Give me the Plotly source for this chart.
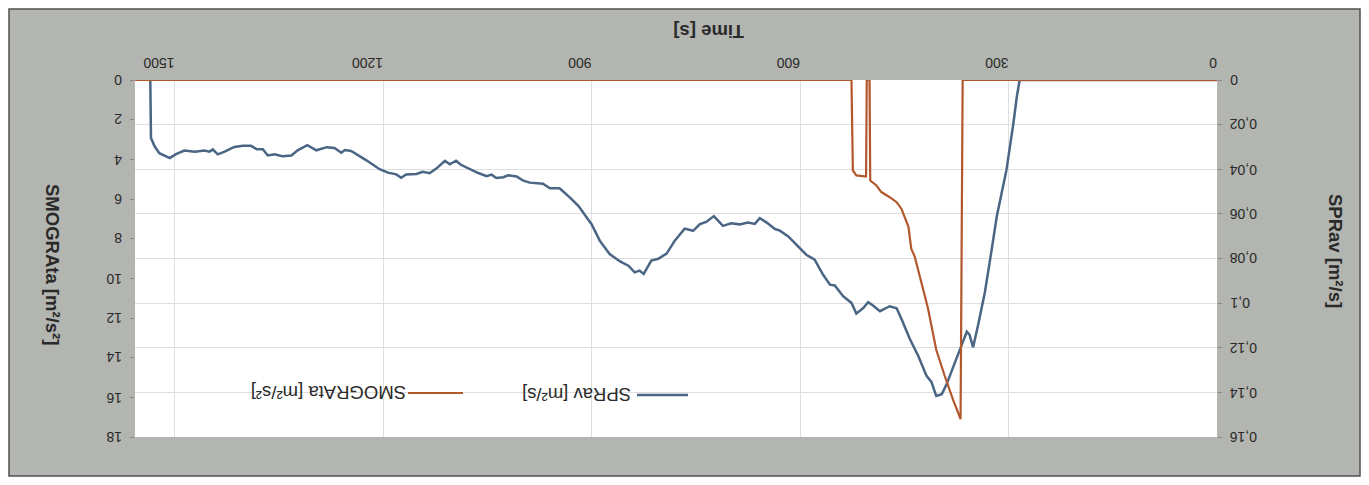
import plotly.graph_objects as go

# ---- data ----
time_spr = [0, 284, 288, 293, 303, 317, 324, 334, 344, 351, 356, 360, 365, 375, 389, 396, 404, 411, 418, 430,
            442, 454, 461, 471, 478, 485, 495, 502, 509, 519, 526, 538, 550, 557, 567, 579, 591, 605, 617, 629,
            636, 648, 658, 665, 675, 687, 699, 711, 724, 735, 744, 754, 766, 780, 792, 804, 814, 825, 831, 838,
            847, 859, 874, 888, 900, 907, 919, 931, 946, 960, 970, 989, 999, 1008, 1020, 1027, 1037, 1044, 1051,
            1063, 1078, 1088, 1095, 1104, 1111, 1123, 1133, 1143, 1152, 1167, 1174, 1181, 1193, 1205, 1224, 1239,
            1246, 1255, 1260, 1270, 1281, 1296, 1309, 1323, 1332, 1345, 1356, 1366, 1373, 1382, 1390, 1402, 1414,
            1428, 1438, 1445, 1450, 1457, 1471, 1486, 1498, 1507, 1522, 1529, 1534, 1535]
spr_av = [0, 0, 0.0074, 0.0194, 0.0404, 0.0613, 0.0756, 0.0951, 0.1101, 0.1198, 0.1142, 0.1128, 0.1168, 0.1251,
          0.1363, 0.1408, 0.1416, 0.1353, 0.1326, 0.1236, 0.1161, 0.1071, 0.1023, 0.1014, 0.1026, 0.1036, 0.1011,
          0.0996, 0.1022, 0.1047, 0.0999, 0.0969, 0.0921, 0.0917, 0.0872, 0.0805, 0.0783, 0.0738, 0.0701, 0.0675,
          0.0668, 0.0639, 0.0619, 0.0645, 0.0639, 0.0647, 0.0642, 0.0654, 0.0610, 0.0636, 0.0646, 0.0676, 0.0666,
          0.0719, 0.0778, 0.0801, 0.0809, 0.0869, 0.0854, 0.0862, 0.0832, 0.0813, 0.0780, 0.0721, 0.0646, 0.0616,
          0.0564, 0.0527, 0.0485, 0.0485, 0.0465, 0.0460, 0.0450, 0.0432, 0.0427, 0.0436, 0.0439, 0.0424, 0.0431,
          0.0417, 0.0395, 0.0380, 0.0362, 0.0378, 0.0362, 0.0396, 0.0418, 0.0411, 0.0421, 0.0423, 0.0438, 0.0423,
          0.0415, 0.0400, 0.0360, 0.0330, 0.0318, 0.0314, 0.0326, 0.0305, 0.0301, 0.0315, 0.0292, 0.0315, 0.0338,
          0.0342, 0.0333, 0.0338, 0.0310, 0.0310, 0.0295, 0.0295, 0.0300, 0.0321, 0.0333, 0.0311, 0.0321, 0.0316,
          0.0322, 0.0316, 0.0332, 0.0350, 0.0328, 0.0296, 0.0260, 0]

time_smog = [0, 366, 369, 380, 392, 404, 416, 428, 435, 440, 444, 454, 461, 471, 483, 490, 499, 500, 504, 505,
             507, 519, 524, 526, 1557]
smog_rata = [0, 0, 17.1, 16.1, 14.9, 13.6, 11.5, 9.9, 8.9, 8.5, 7.4, 6.5, 6.16, 5.91, 5.65, 5.32, 5.07, 0, 0, 4.86,
             4.86, 4.81, 4.56, 0, 0]

x_ticks = [0, 300, 600, 900, 1200, 1500]
y_left_ticks = [0, 2, 4, 6, 8, 10, 12, 14, 16, 18]
y_right_ticks = [0, 0.02, 0.04, 0.06, 0.08, 0.1, 0.12, 0.14, 0.16]
y_right_labels = ["0", "0,02", "0,04", "0,06", "0,08", "0,1", "0,12", "0,14", "0,16"]
name_spr = "SPRav [m²/s]"
name_smog = "SMOGRAta [m²/s²]"

BLUE = "#4a6684"
ORANGE = "#b3582c"
GRAY = "#b2b5b0"
GRID = "#dedede"
TXT = "#2a2a2a"

# page body has an 8px default margin -> figure sized to fit inside the window
OFF = 8
W, H = 1369 - 2 * OFF, 485 - 2 * OFF
# plot area in window pixels: x 135..1217, y 80..437
SL, SR, ST, SB = 135, 1217, 80, 437
L, T = SL - OFF, ST - OFF
R, B = W - (SR - OFF), H - (SB - OFF)
PW, PH = SR - SL, SB - ST


def px(x):  # window pixel -> paper fraction
    return (x - SL) / PW


def py(y):
    return 1 - (y - ST) / PH


fig = go.Figure()
# SPRav on the base axis (right side), SMOGRAta on the overlaying axis (left side) so it is drawn on top
fig.add_trace(go.Scatter(x=time_spr, y=spr_av, name=name_spr, mode="lines",
                         line=dict(color=BLUE, width=2.5), yaxis="y"))
fig.add_trace(go.Scatter(x=time_smog, y=smog_rata, name=name_smog, mode="lines",
                         line=dict(color=ORANGE, width=2.2), yaxis="y2"))

FAM = "Liberation Sans, Arial, sans-serif"
tickfont = dict(family=FAM, size=14, color=TXT)
titlefont = dict(family=FAM, size=18.5, color=TXT, weight="bold")
legfont = dict(family=FAM, size=18.5, color=TXT)

shapes = [
    dict(type="rect", xref="paper", yref="paper", x0=px(OFF + 1), x1=px(1369 - OFF - 1),
         y0=py(485 - OFF - 1), y1=py(OFF + 1),
         fillcolor=GRAY, line=dict(color="#505050", width=1.5), layer="below"),
    dict(type="rect", xref="paper", yref="paper", x0=0, x1=1, y0=0, y1=1,
         fillcolor="white", line=dict(width=0), layer="below"),
    # legend line samples
    dict(type="line", xref="paper", yref="paper", x0=px(637), x1=px(688), y0=py(395), y1=py(395),
         line=dict(color=BLUE, width=2.5)),
    dict(type="line", xref="paper", yref="paper", x0=px(408), x1=px(463), y0=py(393), y1=py(393),
         line=dict(color=ORANGE, width=2.2)),
]

annotations = [
    dict(text="Time [s]", x=px(709), y=py(32), xref="paper", yref="paper", showarrow=False,
         xanchor="center", yanchor="middle", textangle=180, font=titlefont),
    dict(text=name_smog, x=px(52), y=py(264), xref="paper", yref="paper", showarrow=False,
         xanchor="center", yanchor="middle", textangle=90, font=titlefont),
    dict(text=name_spr, x=px(1336), y=py(251), xref="paper", yref="paper", showarrow=False,
         xanchor="center", yanchor="middle", textangle=90, font=titlefont),
    # legend texts
    dict(text=name_spr, x=px(577), y=py(395), xref="paper", yref="paper", showarrow=False,
         xanchor="center", yanchor="middle", textangle=180, font=legfont),
    dict(text=name_smog, x=px(329), y=py(393), xref="paper", yref="paper", showarrow=False,
         xanchor="center", yanchor="middle", textangle=180, font=legfont),
]
# upside-down tick labels of the two value axes
for v in y_left_ticks:
    annotations.append(dict(text=str(v), x=px(124), y=v, xref="paper", yref="y2", showarrow=False,
                            xanchor="right", yanchor="middle", textangle=180, font=tickfont))
for v, lab in zip(y_right_ticks, y_right_labels):
    annotations.append(dict(text=lab, x=px(1228), y=v, xref="paper", yref="y", showarrow=False,
                            xanchor="left", yanchor="middle", textangle=180, font=tickfont))

fig.update_layout(
    width=W, height=H,
    margin=dict(l=L, r=R, t=T, b=B, pad=0),
    paper_bgcolor="white",
    plot_bgcolor="rgba(0,0,0,0)",
    separators=", ",
    showlegend=False,
    shapes=shapes,
    annotations=annotations,
    xaxis=dict(range=[1557, 0], side="top", tickvals=x_ticks, tickangle=180, tickfont=tickfont,
               showgrid=True, gridcolor=GRID, gridwidth=1, zeroline=False, showline=False,
               ticks="", ticklabelstandoff=4, automargin=False),
    yaxis=dict(range=[0.16, 0], tickvals=y_right_ticks, showticklabels=False, side="right",
               showgrid=True, gridcolor=GRID, gridwidth=1, zeroline=False,
               showline=False, ticks="outside", ticklen=4, tickcolor="#888", automargin=False),
    yaxis2=dict(range=[18, 0], tickvals=y_left_ticks, showticklabels=False, side="left",
                overlaying="y", showgrid=False, zeroline=False, showline=False, ticks="outside",
                ticklen=4, tickcolor="#888", automargin=False),
)

fig.write_html("out.html")
